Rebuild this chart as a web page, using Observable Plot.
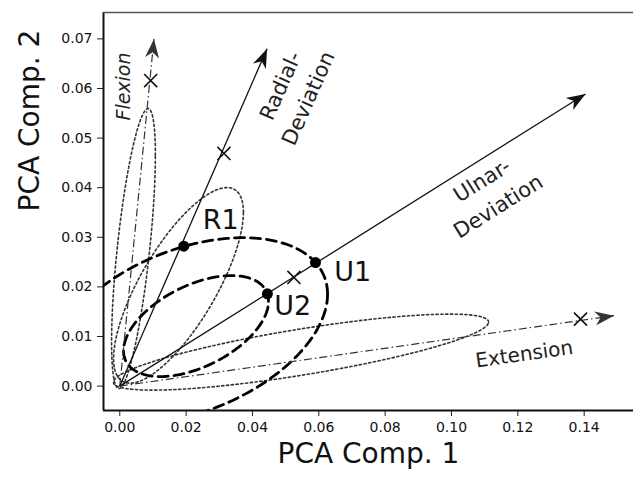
<!DOCTYPE html>
<html>
<head>
<meta charset="utf-8">
<script src="https://cdn.jsdelivr.net/npm/d3@7"></script>
<script src="https://cdn.jsdelivr.net/npm/@observablehq/plot@0.6"></script>
<style>
  html, body { margin: 0; padding: 0; background: #fff; }
</style>
</head>
<body>
<div id="chart"></div>
<script>
// ---------- data ----------
const xTicks = [0, 0.02, 0.04, 0.06, 0.08, 0.10, 0.12, 0.14];
const yTicks = [0, 0.01, 0.02, 0.03, 0.04, 0.05, 0.06, 0.07];
const xLabel = "PCA Comp. 1";
const yLabel = "PCA Comp. 2";

// motion vectors (arrows from the origin)
const motionNames  = ["Flexion", "Radial-Deviation", "Ulnar-Deviation", "Extension"];
const motionTipX   = [0.0103, 0.0444, 0.1404, 0.1490];
const motionTipY   = [0.0700, 0.0680, 0.0589, 0.0142];
const motionCrossX = [0.0093, 0.0314, 0.0525, 0.1389];
const motionCrossY = [0.0616, 0.0469, 0.0219, 0.0135];
const motionLabels = ["Flexion", "Radial-\nDeviation", "Ulnar-\nDeviation", "Extension"];
const motionLabelX = [0.0013, 0.0519, 0.1112, 0.1218];
const motionLabelY = [0.0604, 0.0595, 0.0393, 0.0070];

// subjects
const subjectNames  = ["R1", "U1", "U2"];
const subjectX      = [0.0193, 0.0590, 0.0445];
const subjectY      = [0.0282, 0.0249, 0.0186];
const subjectLabelX = [0.0304, 0.0702, 0.0521];
const subjectLabelY = [0.0334, 0.0229, 0.0160];

// ellipses: centre, half extents and correlation (data units)
const ellipseNames = ["Flexion", "Radial", "Extension", "Subject 1", "Subject 2"];
const ellipseCX    = [0.00413, 0.0177, 0.05464, 0.02075, 0.02298];
const ellipseCY    = [0.02772, 0.0203, 0.00685, 0.01115, 0.01210];
const ellipseW     = [0.00660, 0.01957, 0.05655, 0.04189, 0.02186];
const ellipseH     = [0.02823, 0.01972, 0.00766, 0.01877, 0.01018];
const ellipseR     = [0.667, 0.747, 0.791, 0.393, 0.49];

// ---------- tables ----------
const motions = motionNames.map((name, i) => ({
  name, x1: 0, y1: 0, x2: motionTipX[i], y2: motionTipY[i],
  cx: motionCrossX[i], cy: motionCrossY[i],
  label: motionLabels[i], lx: motionLabelX[i], ly: motionLabelY[i]
}));
const subjects = subjectNames.map((name, i) => ({
  name, x: subjectX[i], y: subjectY[i], lx: subjectLabelX[i], ly: subjectLabelY[i]
}));
function outline(i) {
  const pts = [];
  const n = 180, r = ellipseR[i], s = Math.sqrt(1 - r * r);
  for (let k = 0; k <= n; k++) {
    const t = 2 * Math.PI * k / n;
    pts.push({
      id: ellipseNames[i],
      x: ellipseCX[i] + ellipseW[i] * Math.cos(t),
      y: ellipseCY[i] + ellipseH[i] * (r * Math.cos(t) + s * Math.sin(t))
    });
  }
  return pts;
}
const dottedEllipses = [0, 1, 2].flatMap(outline);
const dashedEllipses = [3, 4].flatMap(outline);

// ---------- styling helpers ----------
function stealth(color, context) {
  const doc = context && context.document ? context.document : document;
  const ns = "http://www.w3.org/2000/svg";
  const m = doc.createElementNS(ns, "marker");
  m.setAttribute("viewBox", "-20 -8 22 16");
  m.setAttribute("markerWidth", 22);
  m.setAttribute("markerHeight", 16);
  m.setAttribute("markerUnits", "userSpaceOnUse");
  m.setAttribute("orient", "auto");
  m.setAttribute("refX", 0);
  m.setAttribute("refY", 0);
  const p = doc.createElementNS(ns, "path");
  p.setAttribute("d", "M0,0L-19,-7L-13.5,0L-19,7Z");
  p.setAttribute("fill", color);
  p.setAttribute("stroke", "none");
  p.setAttribute("stroke-dasharray", "none");
  m.appendChild(p);
  return m;
}
const xDomain = [-0.00491, 0.15487];
const yDomain = [-0.00492, 0.07532];
const font = "DejaVu Sans, Verdana, sans-serif";
const labelAngle = {"Radial-Deviation": -66, "Ulnar-Deviation": -32, "Extension": -8};
const labelSize  = {"Radial-Deviation": 21, "Ulnar-Deviation": 21, "Extension": 20};
const dashDot = ["Flexion", "Extension"];

const chart = Plot.plot({
  width: 633,
  height: 477,
  marginLeft: 103,
  marginTop: 12,
  marginRight: 0,
  marginBottom: 67,
  style: {fontFamily: font, fontSize: "14px", color: "#111", background: "#fff"},
  x: {domain: xDomain, label: null},
  y: {domain: yDomain, label: null},
  marks: [
    Plot.axisX({ticks: xTicks, tickFormat: ".2f", tickSize: 6, tickPadding: 6, fontSize: 14, label: null, stroke: "#222"}),
    Plot.axisY({ticks: yTicks, tickFormat: ".2f", tickSize: 6, tickPadding: 5, fontSize: 14, label: null, stroke: "#222"}),

    // frame (left, bottom, top)
    Plot.ruleX([xDomain[0]], {stroke: "#111", strokeWidth: 2}),
    Plot.ruleY([yDomain[0]], {stroke: "#111", strokeWidth: 2}),
    Plot.ruleY([yDomain[1]], {stroke: "#555", strokeWidth: 1.5}),

    // dotted ellipses
    Plot.line(dottedEllipses, {x: "x", y: "y", z: "id", stroke: "#333", strokeWidth: 1.6, strokeDasharray: "2.2,2.6", curve: "linear"}),
    // dashed ellipses
    Plot.line(dashedEllipses, {x: "x", y: "y", z: "id", stroke: "#000", strokeWidth: 2.8, strokeDasharray: "10,6", curve: "linear", clip: true}),

    // dash-dot arrows
    Plot.link(motions.filter(d => dashDot.includes(d.name)), {
      x1: "x1", y1: "y1", x2: "x2", y2: "y2",
      stroke: "#333", strokeWidth: 1.2, strokeDasharray: "8,3,1.5,3", markerEnd: stealth
    }),
    // solid arrows
    Plot.link(motions.filter(d => !dashDot.includes(d.name)), {
      x1: "x1", y1: "y1", x2: "x2", y2: "y2",
      stroke: "#111", strokeWidth: 1.3, markerEnd: stealth
    }),

    // crosses
    Plot.dot(motions, {x: "cx", y: "cy", symbol: "times", r: 6, stroke: "#111", strokeWidth: 1.6}),

    // subject points
    Plot.dot(subjects, {x: "x", y: "y", r: 5.5, fill: "#000", stroke: "none"}),
    Plot.text(subjects, {x: "lx", y: "ly", text: "name", fontSize: 27, fill: "#111", fontFamily: font}),

    // motion labels
    Plot.text(motions.filter(d => d.name === "Flexion"), {
      x: "lx", y: "ly", text: "label", rotate: -90, fontSize: 19, fontStyle: "italic", fill: "#222", fontFamily: font
    }),
    ...["Radial-Deviation", "Ulnar-Deviation", "Extension"].map(n =>
      Plot.text(motions.filter(d => d.name === n), {
        x: "lx", y: "ly", text: "label", rotate: labelAngle[n], fontSize: labelSize[n],
        lineHeight: 1.45, fill: "#222", fontFamily: font
      })
    ),

    // axis titles
    Plot.text([yLabel], {frameAnchor: "left", dx: -73, rotate: -90, fontSize: 28, fill: "#111", fontFamily: font}),
    Plot.text([xLabel], {frameAnchor: "bottom", dy: 52, fontSize: 28, fill: "#111", fontFamily: font})
  ]
});
document.getElementById("chart").appendChild(chart);
</script>
</body>
</html>
